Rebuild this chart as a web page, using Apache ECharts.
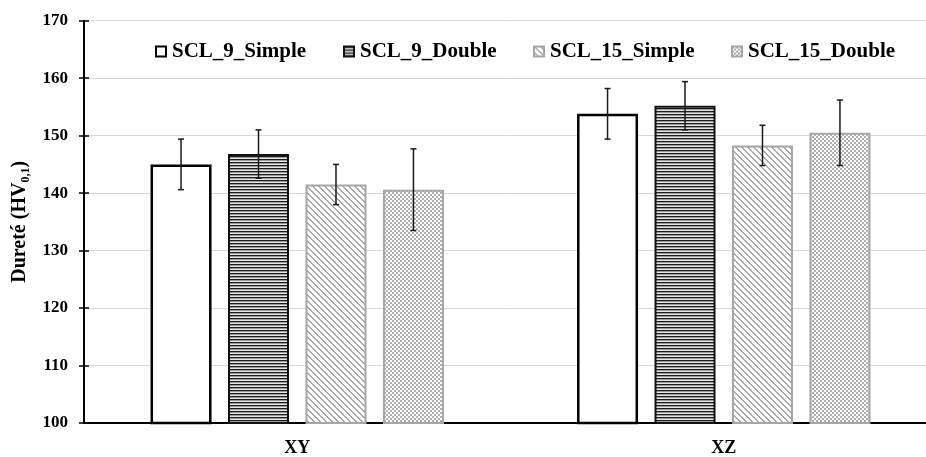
<!DOCTYPE html>
<html>
<head>
<meta charset="utf-8">
<script src="https://cdn.jsdelivr.net/npm/echarts@6/dist/echarts.min.js"></script>
<style>html,body{margin:0;padding:0;background:#fff;overflow:hidden}#c{width:945px;height:457px}</style>
</head>
<body>
<div id="c"></div>
<script>
const categories = ['XY', 'XZ'];
const seriesNames = ['SCL_9_Simple', 'SCL_9_Double', 'SCL_15_Simple', 'SCL_15_Double'];
const scl9Simple = [145.0, 153.8];
const scl9Double = [146.8, 155.2];
const scl15Simple = [141.5, 148.3];
const scl15Double = [140.6, 150.5];
const scl9SimpleErr = [4.4, 4.4];
const scl9DoubleErr = [4.2, 4.2];
const scl15SimpleErr = [3.5, 3.5];
const scl15DoubleErr = [7.1, 5.7];
const yTicks = [100, 110, 120, 130, 140, 150, 160, 170];

const FONT = "'Liberation Serif', 'Times New Roman', serif";

function pattern(w, h, fn) {
  const c = document.createElement('canvas');
  c.width = w; c.height = h;
  const ctx = c.getContext('2d');
  ctx.fillStyle = '#ffffff';
  ctx.fillRect(0, 0, w, h);
  fn(ctx);
  return c;
}
const horiz = pattern(4, 3, ctx => {
  ctx.fillStyle = '#1e1e1e'; ctx.fillRect(0, 0, 4, 1);
  ctx.fillStyle = '#9a9a9a'; ctx.fillRect(0, 1, 4, 1);
  ctx.fillStyle = '#e6e6e6'; ctx.fillRect(0, 2, 4, 1);
});
const diag = pattern(6, 6, ctx => {
  ctx.fillStyle = '#a8a8a8';
  for (let y = 0; y < 6; y++) for (let x = 0; x < 6; x++) {
    const d = ((x - y) % 6 + 6) % 6;
    if (d === 0 || d === 1) ctx.fillRect(x, y, 1, 1);
  }
});
const checker = pattern(4, 4, ctx => {
  ctx.fillStyle = '#b0b0b0';
  ctx.fillRect(0, 0, 2, 2);
  ctx.fillRect(2, 2, 2, 2);
});

const values = [scl9Simple, scl9Double, scl15Simple, scl15Double];
const errs = [scl9SimpleErr, scl9DoubleErr, scl15SimpleErr, scl15DoubleErr];
const styles = [
  {color: '#ffffff', borderColor: '#000000', borderWidth: 2.5},
  {color: {image: horiz, repeat: 'repeat'}, borderColor: '#111111', borderWidth: 2},
  {color: {image: diag, repeat: 'repeat'}, borderColor: '#a6a6a6', borderWidth: 2},
  {color: {image: checker, repeat: 'repeat'}, borderColor: '#a6a6a6', borderWidth: 2}
];
const BAR_W = 61;
const GAP = 0.27;

const series = [];
values.forEach((v, i) => {
  series.push({
    name: seriesNames[i], type: 'bar', data: v,
    barWidth: BAR_W, barGap: (GAP * 100) + '%',
    itemStyle: styles[i], emphasis: {disabled: true}, z: 2
  });
});
values.forEach((v, i) => {
  const data = v.map((val, k) => [k, val - errs[i][k], val + errs[i][k]]);
  series.push({
    type: 'custom', name: 'err' + i, z: 5, silent: true,
    renderItem: (params, api) => {
      const k = api.value(0);
      const lo = api.coord([k, api.value(1)]);
      const hi = api.coord([k, api.value(2)]);
      const pitch = BAR_W * (1 + GAP);
      const x = lo[0] + (i - 1.5) * pitch;
      const cap = 3;
      const st = {stroke: '#1a1a1a', lineWidth: 1.5};
      return {type: 'group', children: [
        {type: 'line', shape: {x1: x, y1: lo[1], x2: x, y2: hi[1]}, style: st},
        {type: 'line', shape: {x1: x - cap, y1: lo[1], x2: x + cap, y2: lo[1]}, style: st},
        {type: 'line', shape: {x1: x - cap, y1: hi[1], x2: x + cap, y2: hi[1]}, style: st}
      ]};
    },
    encode: {x: 0, y: [1, 2]},
    data: data
  });
});

const legendLeft = [155, 343, 533, 731];
const legends = seriesNames.map((n, i) => ({
  data: [n], left: legendLeft[i], top: 41, padding: 0, icon: 'rect',
  itemWidth: 10, itemHeight: 10, itemGap: 0, selectedMode: false,
  textStyle: {fontFamily: FONT, fontWeight: 'bold', fontSize: 21, color: '#000', padding: [0, 0, 0, 1]}
}));

const chart = echarts.init(document.getElementById('c'), null, {renderer: 'canvas'});
chart.setOption({
  animation: false,
  backgroundColor: '#ffffff',
  legend: legends,
  grid: {left: 84, top: 20.7, right: 8, bottom: 30, containLabel: false},
  xAxis: [{
    type: 'category', data: categories,
    axisLine: {lineStyle: {color: '#000', width: 2}},
    axisTick: {length: 6, lineStyle: {color: '#000', width: 1.5}},
    axisLabel: {fontFamily: FONT, fontWeight: 'bold', fontSize: 18, color: '#000', margin: 16}
  }, {
    type: 'category', data: categories, position: 'bottom',
    axisLine: {show: false},
    axisTick: {inside: true, length: 6, lineStyle: {color: '#000', width: 1.5}},
    axisLabel: {show: false}
  }],
  yAxis: [{
    type: 'value', min: yTicks[0], max: yTicks[yTicks.length - 1], interval: 10,
    axisLine: {show: true, lineStyle: {color: '#000', width: 2}},
    axisTick: {show: true, length: 5, lineStyle: {color: '#000', width: 1.5}},
    axisLabel: {fontFamily: FONT, fontWeight: 'bold', fontSize: 17, color: '#000', margin: 16},
    splitLine: {lineStyle: {color: '#d9d9d9', width: 1}},
    name: '{a|Dureté (HV}{s|0,1}{a|)}',
    nameLocation: 'middle', nameRotate: 90, nameGap: 49,
    nameTextStyle: {
      rich: {
        a: {fontFamily: FONT, fontWeight: 'bold', fontSize: 20, color: '#000', lineHeight: 24},
        s: {fontFamily: FONT, fontWeight: 'bold', fontSize: 12, color: '#000', lineHeight: 24, padding: [11, 0, 0, 0]}
      }
    }
  }, {
    type: 'value', min: yTicks[0], max: yTicks[yTicks.length - 1], interval: 10, position: 'left',
    axisLine: {show: false},
    axisTick: {show: true, inside: true, length: 5, lineStyle: {color: '#000', width: 1.5}},
    axisLabel: {show: false}, splitLine: {show: false}
  }],
  series: series
});
</script>
</body>
</html>
